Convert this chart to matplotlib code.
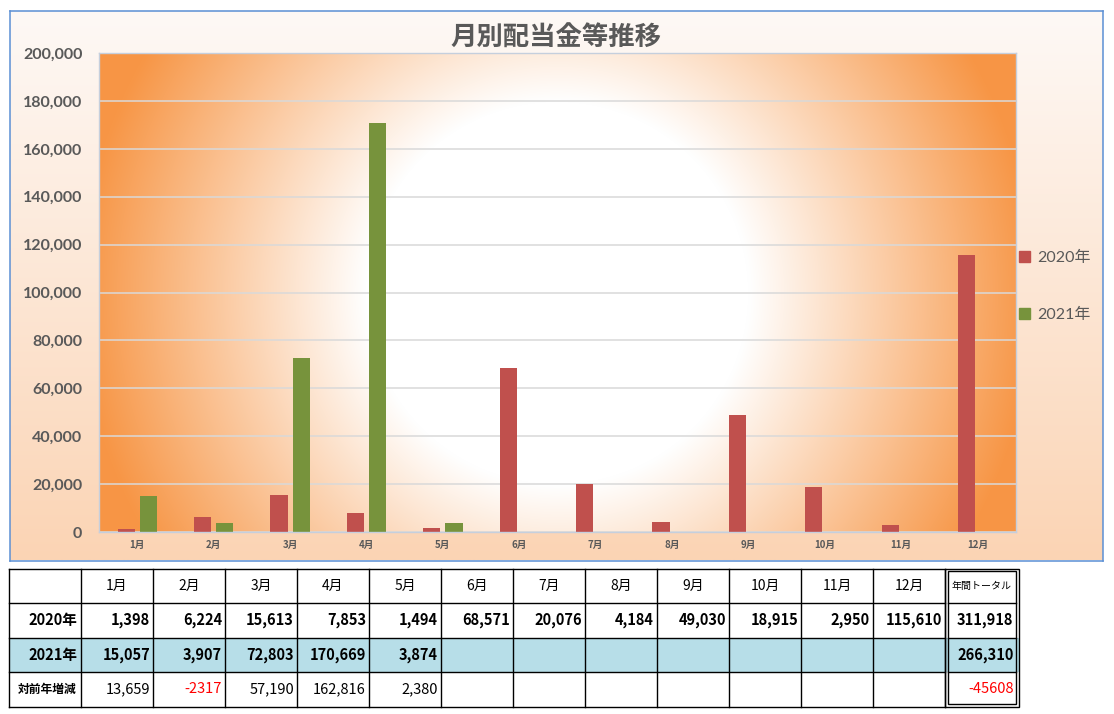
import numpy as np
import matplotlib.pyplot as plt
from matplotlib.patches import Rectangle, Patch
from matplotlib.colors import to_rgb

months = ['1月', '2月', '3月', '4月', '5月', '6月', '7月', '8月', '9月', '10月', '11月', '12月']
sales_2020 = [1398, 6224, 15613, 7853, 1494, 68571, 20076, 4184, 49030, 18915, 2950, 115610]
sales_2021 = [15057, 3907, 72803, 170669, 3874]
series_names = ['2020年', '2021年']
diff_label = '対前年増減'
total_label = '年間トータル'
y_ticks = list(range(0, 200001, 20000))

C2020 = '#C0504D'
C2021 = '#77933C'
GRAY = '#595959'
JP = 'Noto Sans CJK JP'

W, H = 1114, 714
fig = plt.figure(figsize=(W / 100, H / 100), dpi=100)


def px_rect(x0, y0, x1, y1):
    return [x0 / W, 1 - y1 / H, (x1 - x0) / W, (y1 - y0) / H]


# chart area background (vertical gradient)
bg = fig.add_axes(px_rect(9.5, 10.5, 1102.5, 560.5))
g = np.linspace(0, 1, 256)[:, None, None]
top, bot = np.array(to_rgb('#FEF9F6')), np.array(to_rgb('#FBD4B4'))
bg.imshow(np.repeat(top + (bot - top) * g, 2, axis=1), extent=[0, 1, 0, 1], aspect='auto')
bg.set_xticks([])
bg.set_yticks([])
for s in bg.spines.values():
    s.set_color('#5B8FD4')
    s.set_linewidth(1.1)

# plot area with radial gradient
ax = fig.add_axes(px_rect(99, 53, 1016, 532))
yy, xx = np.mgrid[0:479, 0:917]
d = np.hypot(xx - 458, yy - 240)
f = np.clip((d / d.max() - 0.37) / 0.55, 0, 1)[..., None]
img = 1 - f * (1 - np.array(to_rgb('#F79646')))
ax.imshow(img, extent=[0, 1, 0, 1], transform=ax.transAxes, aspect='auto', zorder=-1)

x = np.arange(len(months))
ax.bar(x - 0.145, sales_2020, width=0.225, color=C2020, zorder=2)
ax.bar(np.arange(len(sales_2021)) + 0.145, sales_2021, width=0.225, color=C2021, zorder=2)
ax.set_xlim(-0.5, 11.5)
ax.set_ylim(0, 200000)
ax.set_axisbelow(True)
ax.yaxis.grid(True, color='#D9D9D9', lw=1.1)

ax.set_yticks(y_ticks)
ax.set_yticklabels([f'{v:,}' for v in y_ticks], family='Lato', fontweight='bold',
                   fontsize=11.5, color=GRAY)
ax.set_xticks(x)
ax.set_xticklabels(months, family=JP, fontweight='bold', fontsize=7, color=GRAY)
ax.tick_params(axis='y', length=0, pad=12)
ax.tick_params(axis='x', length=0, pad=6)
for s in ax.spines.values():
    s.set_color('#C5CFDD')
    s.set_linewidth(1)

fig.text(556 / W, 1 - 38 / H, '月別配当金等推移', fontsize=19, fontweight='bold',
         color=GRAY, family=JP, ha='center', va='center')

handles = [Patch(color=C2020, label=series_names[0]), Patch(color=C2021, label=series_names[1])]
fig.legend(handles=handles, loc='upper left', bbox_to_anchor=(1019 / W, 1 - 251 / H),
           frameon=False, prop={'family': ['Lato', JP], 'size': 11.5}, labelcolor=GRAY,
           handlelength=0.7, handleheight=0.7, handletextpad=0.45, labelspacing=2.65,
           borderpad=0, borderaxespad=0)

# table below the chart
tab = fig.add_axes([0, 0, 1, 1])
tab.set_xlim(0, W)
tab.set_ylim(H, 0)
tab.axis('off')
tab.patch.set_alpha(0)

col_x = [9] + [81 + 72 * i for i in range(13)]
tot_x0, tot_x1 = 945, 1018.5
row_y = [568.5 + 34.5 * i for i in range(5)]
lw = 1.0

tab.add_patch(Rectangle((col_x[0], row_y[2]), tot_x1 - col_x[0], row_y[3] - row_y[2],
                        facecolor='#B7DEE8', edgecolor='none'))
for y in row_y:
    tab.plot([col_x[0], tot_x0], [y, y], color='black', lw=lw)
for cx in col_x:
    tab.plot([cx, cx], [row_y[0], row_y[-1]], color='black', lw=lw)
for inset in (0, 2.5):
    tab.add_patch(Rectangle((tot_x0 + inset, row_y[0] + inset), tot_x1 - tot_x0 - 2 * inset,
                            row_y[-1] - row_y[0] - 2 * inset, facecolor='none',
                            edgecolor='black', lw=lw))
for y in row_y[1:4]:
    tab.plot([tot_x0 + 2.5, tot_x1 - 2.5], [y, y], color='black', lw=lw)


def row_mid(r):
    return (row_y[r] + row_y[r + 1]) / 2


for i, m in enumerate(months):
    tab.text((col_x[i + 1] + col_x[i + 2]) / 2, row_mid(0), m, family=JP, fontsize=10,
             ha='center', va='center')
tab.text((tot_x0 + tot_x1) / 2, row_mid(0), total_label, family=JP, fontsize=7.2,
         ha='center', va='center')

diffs = [b - a for a, b in zip(sales_2020, sales_2021)]
totals = [sum(sales_2020), sum(sales_2021)]
totals.append(totals[1] - totals[0])


def fmt(v):
    return f'{v:,}' if v >= 0 else str(v)


rows = [sales_2020, sales_2021, diffs]
labels = series_names + [diff_label]
for r, (vals, lab) in enumerate(zip(rows, labels), start=1):
    bold = r < 3
    tab.text(col_x[1] - 4, row_mid(r), lab, family=JP, fontsize=10.5 if bold else 8.5,
             fontweight='bold', ha='right', va='center')
    for i, v in enumerate(vals):
        tab.text(col_x[i + 2] - 3, row_mid(r), fmt(v), family=JP, fontsize=10.5,
                 fontweight='bold' if bold else 'normal',
                 color='red' if v < 0 else 'black', ha='right', va='center')
    tt = totals[r - 1]
    tab.text(tot_x1 - 5, row_mid(r), fmt(tt), family=JP, fontsize=10.5,
             fontweight='bold' if bold else 'normal',
             color='red' if tt < 0 else 'black', ha='right', va='center')

fig.savefig('out.png', dpi=100)
